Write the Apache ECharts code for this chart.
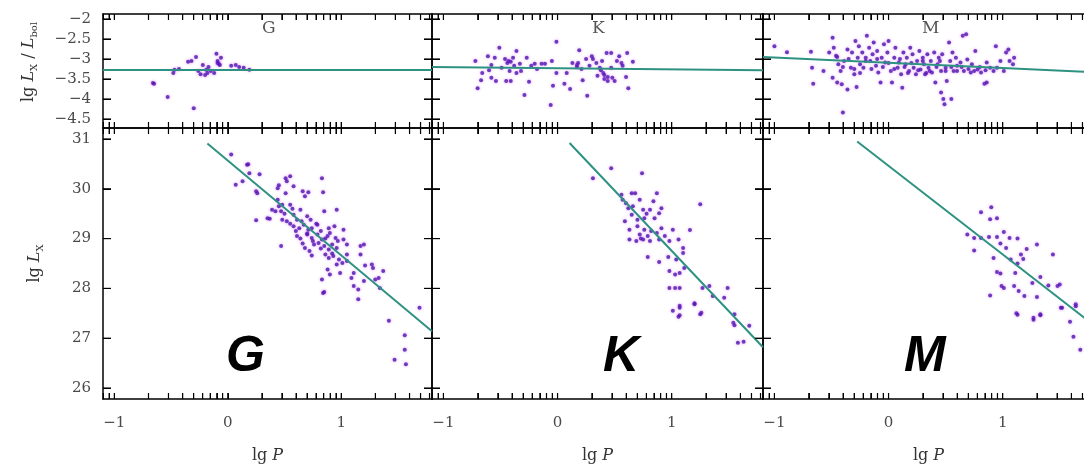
<!DOCTYPE html>
<html>
<head>
<meta charset="utf-8">
<script src="https://cdn.jsdelivr.net/npm/echarts@6/dist/echarts.min.js"></script>
<style>
html, body { margin: 0; padding: 0; background: #fff; }
#main { width: 1084px; height: 470px; }
</style>
</head>
<body>
<div id="main"></div>
<script>
// lg P, lg Lx/Lbol  (upper row)
const gTop = [[-0.66,-3.6],[-0.65,-3.62],[-0.53,-3.95],[-0.48,-3.35],[-0.47,-3.27],[-0.43,-3.25],[-0.30,-4.23],
  [-0.35,-3.07],[-0.32,-3.05],[-0.28,-2.95],[-0.26,-3.3],[-0.24,-3.38],[-0.22,-3.15],[-0.20,-3.4],[-0.18,-3.35],
  [-0.15,-3.3],[-0.12,-3.35],[-0.10,-2.87],[-0.09,-3.1],[-0.08,-3.12],[-0.06,-2.97],[-0.07,-3.15],[0.03,-3.17],
  [0.07,-3.15],[0.10,-3.2],[0.14,-3.22],[0.19,-3.27],[-0.19,-3.27],[-0.17,-3.2],[-0.09,-3.05]];

const kTop = [[-0.72,-3.05],[-0.70,-3.73],[-0.67,-3.53],[-0.66,-3.35],[-0.61,-2.93],[-0.60,-3.28],[-0.58,-3.47],
  [-0.55,-2.97],[-0.54,-3.55],[-0.51,-2.72],[-0.49,-3.22],[-0.46,-3.0],[-0.45,-3.55],[-0.44,-3.1],[-0.42,-3.3],
  [-0.41,-3.55],[-0.39,-2.97],[-0.38,-3.17],[-0.36,-2.8],[-0.36,-3.35],[-0.33,-3.12],[-0.32,-3.3],[-0.29,-3.9],
  [-0.27,-2.97],[-0.25,-3.57],[-0.23,-3.17],[-0.20,-3.12],[-0.18,-3.25],[-0.14,-3.12],[-0.11,-3.12],[-0.06,-4.15],
  [-0.05,-3.05],[-0.04,-3.67],[-0.01,-2.57],[-0.01,-3.35],[0.06,-3.62],[0.08,-3.35],[0.11,-3.75],[0.13,-3.1],
  [0.17,-3.15],[0.18,-3.1],[0.19,-2.78],[0.21,-3.25],[0.22,-3.53],[0.25,-3.0],[0.26,-3.92],[0.28,-3.17],
  [0.30,-2.93],[0.31,-3.0],[0.34,-3.1],[0.35,-3.42],[0.37,-3.22],[0.39,-3.05],[0.40,-3.35],[0.41,-3.5],
  [0.43,-2.85],[0.44,-3.55],[0.47,-2.85],[0.47,-3.22],[0.48,-3.47],[0.50,-3.55],[0.52,-3.05],[0.54,-2.93],
  [0.56,-3.1],[0.57,-3.17],[0.60,-3.45],[0.61,-2.85],[0.62,-3.73],[0.66,-3.07],[-0.43,-3.05],[-0.41,-3.07],
  [0.41,-3.4],[0.44,-3.45],[0.38,-3.28],[0.17,-3.2],[-0.58,-3.15]];

const mTop = [[-1.0,-2.68],[-0.89,-2.83],[-0.68,-2.82],[-0.67,-3.22],[-0.66,-3.62],[-0.57,-3.3],[-0.52,-2.84],
  [-0.49,-2.47],[-0.49,-3.47],[-0.48,-2.72],[-0.46,-2.92],[-0.45,-3.59],[-0.44,-3.13],[-0.42,-3.3],[-0.41,-3.63],
  [-0.40,-4.34],[-0.39,-3.05],[-0.36,-2.76],[-0.36,-3.76],[-0.33,-3.22],[-0.32,-2.84],[-0.30,-3.38],[-0.29,-2.55],
  [-0.28,-3.7],[-0.27,-2.97],[-0.26,-2.68],[-0.25,-3.13],[-0.23,-2.84],[-0.22,-3.22],[-0.20,-2.97],[-0.19,-2.42],
  [-0.17,-2.72],[-0.16,-3.05],[-0.14,-2.88],[-0.13,-2.59],[-0.11,-3.17],[-0.10,-2.8],[-0.09,-3.34],[-0.07,-3.59],
  [-0.06,-2.97],[-0.04,-2.63],[-0.03,-3.09],[-0.01,-2.84],[0.0,-2.55],[0.02,-3.3],[0.03,-3.59],[0.05,-2.97],
  [0.06,-2.72],[0.08,-3.22],[0.09,-3.09],[0.11,-3.38],[0.12,-3.72],[0.13,-2.84],[0.15,-3.13],[0.16,-2.97],
  [0.18,-3.3],[0.19,-2.72],[0.21,-2.88],[0.22,-3.22],[0.24,-3.38],[0.25,-3.05],[0.27,-2.8],[0.28,-3.26],
  [0.30,-2.97],[0.31,-3.13],[0.32,-3.38],[0.34,-2.88],[0.35,-3.22],[0.37,-3.05],[0.38,-3.34],[0.40,-2.84],
  [0.41,-3.59],[0.43,-3.13],[0.44,-2.97],[0.46,-3.3],[0.46,-3.84],[0.47,-2.88],[0.48,-4.0],[0.49,-4.13],
  [0.50,-3.22],[0.51,-3.55],[0.53,-2.59],[0.54,-3.05],[0.55,-4.0],[0.56,-2.84],[0.57,-3.3],[0.59,-2.97],
  [0.60,-3.17],[0.63,-3.09],[0.65,-2.42],[0.68,-2.38],[0.66,-3.3],[0.69,-3.01],[0.72,-3.34],[0.73,-3.13],
  [0.76,-2.8],[0.78,-3.26],[0.81,-3.34],[0.84,-3.62],[0.86,-3.59],[0.86,-3.09],[0.89,-3.22],[0.94,-2.68],
  [0.95,-3.22],[0.98,-3.05],[1.01,-3.3],[1.03,-2.84],[1.05,-2.76],[1.06,-3.05],[1.09,-3.13],[1.10,-2.97],
  [-0.35,-3.0],[-0.30,-3.25],[-0.20,-3.05],[-0.15,-3.25],[-0.10,-3.0],[-0.05,-3.2],[0.0,-3.1],[0.05,-3.25],
  [0.10,-3.0],[0.14,-3.2],[0.20,-3.1],[0.26,-3.28],[0.30,-3.05],[0.36,-3.3],[0.42,-3.2],[0.45,-3.05],
  [0.50,-3.3],[0.55,-3.2],[0.60,-3.3],[0.64,-3.2],[0.70,-3.25],[0.75,-3.3],[0.80,-3.2],[0.85,-3.28],
  [0.92,-3.3],[-0.40,-3.2],[-0.45,-2.95],[-0.25,-3.35],[0.17,-3.35],[0.33,-3.35]];

// lg P, lg Lx  (lower row)
const gBottom = [[0.03,30.69],[0.18,30.49],[0.19,30.31],[0.28,30.29],[0.07,30.08],[0.13,30.15],[0.25,29.95],
  [0.26,29.91],[0.44,30.01],[0.45,30.07],[0.51,30.21],[0.52,30.15],[0.55,30.25],[0.58,30.05],[0.51,29.91],
  [0.66,29.95],[0.68,29.85],[0.71,29.93],[0.83,30.21],[0.84,29.93],[0.44,29.78],[0.48,29.68],[0.39,29.58],
  [0.42,29.55],[0.47,29.55],[0.35,29.41],[0.37,29.40],[0.25,29.37],[0.48,29.38],[0.55,29.68],[0.58,29.48],
  [0.64,29.58],[0.52,29.35],[0.61,29.38],[0.70,29.45],[0.73,29.38],[0.85,29.55],[0.96,29.58],[0.58,29.25],
  [0.63,29.21],[0.67,29.28],[0.71,29.18],[0.74,29.21],[0.79,29.28],[0.82,29.15],[0.89,29.21],[0.94,29.25],
  [1.02,29.18],[0.61,29.05],[0.64,29.0],[0.70,29.08],[0.74,29.01],[0.79,29.08],[0.83,28.98],[0.88,29.05],
  [0.90,29.11],[0.95,29.01],[1.02,28.98],[0.47,28.85],[0.68,28.81],[0.76,28.88],[0.80,28.91],[0.85,28.85],
  [0.89,28.78],[0.92,28.88],[0.96,28.81],[1.05,28.88],[1.17,28.85],[1.20,28.88],[0.74,28.66],[0.86,28.68],
  [0.89,28.61],[0.93,28.65],[0.98,28.58],[1.05,28.68],[1.17,28.68],[0.96,28.48],[1.01,28.51],[1.05,28.55],
  [1.21,28.46],[1.27,28.48],[1.28,28.41],[1.37,28.35],[0.88,28.38],[0.90,28.28],[0.99,28.31],[1.11,28.31],
  [0.83,28.18],[1.09,28.21],[1.20,28.15],[1.30,28.18],[1.33,28.21],[1.11,28.05],[1.15,27.98],[1.34,28.01],
  [0.85,27.93],[1.15,27.78],[1.69,27.61],[1.42,27.35],[1.56,27.06],[1.56,26.77],[1.47,26.57],[1.57,26.48],
  [0.17,30.48],[0.84,27.91],[0.55,29.3],[0.60,29.15],[0.65,29.35],[0.70,29.1],[0.75,28.95],[0.78,29.3],
  [0.82,28.8],[0.86,29.0],[0.92,28.7],[0.97,28.95],[0.50,29.5],[0.45,29.65],[0.57,29.6],[0.66,28.9],[0.72,28.75]];

const kBottom = [[0.31,30.21],[0.47,30.41],[0.74,30.31],[0.56,29.88],[0.57,29.78],[0.60,29.71],[0.62,29.61],
  [0.65,29.91],[0.68,29.91],[0.72,29.78],[0.75,29.58],[0.81,29.58],[0.84,29.75],[0.87,29.91],[0.91,29.61],
  [0.89,29.51],[0.59,29.35],[0.65,29.48],[0.70,29.38],[0.76,29.41],[0.85,29.41],[1.25,29.69],[0.63,29.18],
  [0.72,29.08],[0.76,29.18],[0.79,29.05],[0.82,29.15],[0.87,29.11],[0.91,29.21],[0.94,29.05],[1.01,29.18],
  [1.16,29.17],[0.63,28.98],[0.69,28.95],[0.75,28.98],[0.81,28.95],[0.89,28.98],[0.98,28.95],[1.06,28.98],
  [1.10,28.81],[0.79,28.63],[0.89,28.53],[0.97,28.63],[1.04,28.58],[1.10,28.71],[1.11,28.41],[0.98,28.35],
  [1.03,28.28],[1.07,28.31],[0.98,28.01],[1.03,28.01],[1.07,28.01],[1.27,28.01],[1.33,28.05],[1.49,28.01],
  [1.36,27.85],[1.46,27.81],[1.07,27.65],[1.20,27.70],[1.01,27.55],[1.07,27.46],[1.26,27.51],[1.55,27.48],
  [1.54,27.31],[1.68,27.25],[1.07,27.61],[1.06,27.43],[1.20,27.68],[1.25,27.48],[1.55,27.26],[1.58,26.91],
  [1.63,26.93],[0.70,29.25],[0.78,29.5],[0.66,29.65],[0.73,29.0]];

const mBottom = [[0.90,29.63],[0.81,29.53],[0.89,29.39],[0.95,29.41],[1.01,29.13],[0.69,29.08],[0.75,29.01],
  [0.81,29.01],[0.88,29.03],[0.95,29.03],[1.06,29.01],[1.13,29.0],[0.75,28.76],[0.98,28.90],[1.03,28.81],
  [1.21,28.79],[1.30,28.88],[0.92,28.61],[1.07,28.58],[1.16,28.68],[1.18,28.59],[1.13,28.50],[1.44,28.68],
  [0.95,28.33],[0.98,28.30],[1.11,28.31],[1.26,28.11],[1.33,28.23],[0.99,28.05],[1.10,28.05],[1.01,28.01],
  [1.14,27.95],[1.40,28.06],[1.48,28.05],[1.50,28.08],[0.89,27.86],[1.19,27.85],[1.30,27.83],[1.64,27.68],
  [1.51,27.61],[1.12,27.50],[1.33,27.48],[1.27,27.41],[1.13,27.47],[1.27,27.37],[1.33,27.46],[1.52,27.61],
  [1.64,27.64],[1.59,27.33],[1.62,27.03],[1.68,26.77]];

// fitted relations
const gTopFit = [[-1.1,-3.27],[1.8,-3.27]];
const kTopFit = [[-1.1,-3.2],[1.8,-3.28]];
const mTopFit = [[-1.1,-2.95],[1.8,-3.33]];
const gBottomFit = [[-0.18,30.91],[1.8,27.14]];
const kBottomFit = [[0.105,30.92],[1.8,26.82]];
const mBottomFit = [[-0.275,30.95],[1.8,27.26]];

const classes = ['G', 'K', 'M'];
const xLabels = [-1, 0, 1];
const topYLabels = [-4.5, -4, -3.5, -3, -2.5, -2];
const bottomYLabels = [26, 27, 28, 29, 30, 31];

// log-style minor ticks on the lg P axis
const xTicks = [];
for (let d = -2; d <= 1; d++) {
  for (let k = 1; k <= 9; k++) {
    const v = d + Math.log10(k);
    if (v >= -1.1 && v <= 1.8) xTicks.push(Math.round(v * 10000) / 10000);
  }
}

const points = [[gTop, kTop, mTop], [gBottom, kBottom, mBottom]];
const fits = [[gTopFit, kTopFit, mTopFit], [gBottomFit, kBottomFit, mBottomFit]];

const xMin = -1.1, xMax = 1.8;
const colLeft = [103, 432, 763];
const colWidth = [329, 331, 331];
const rows = [
  { top: 14, height: 114, min: -4.725, max: -1.875, labels: topYLabels,
    name: '{a|lg }{i|L}{s|X}{a| / }{i|L}{s|bol}', nameGap: 64, namePad: [0, 0, 0, 18] },
  { top: 128, height: 271, min: 25.78, max: 31.22, labels: bottomYLabels,
    name: '{a|lg }{i|L}{s|X}', nameGap: 58, namePad: 0 }
];

const serif = 'DejaVu Serif';
const fmt = v => (v < 0 ? '\u2212' : '') + Math.abs(v);
const nameRich = {
  a: { fontFamily: serif, fontSize: 16, color: '#333', lineHeight: 20 },
  i: { fontFamily: serif, fontSize: 16, fontStyle: 'italic', color: '#333', lineHeight: 20 },
  s: { fontFamily: serif, fontSize: 10, color: '#333', lineHeight: 6, verticalAlign: 'bottom' }
};

// tick anchors on the four frame sides: [value x, value y, pixel dx, pixel dy] (inward direction)
function frameTicks(row) {
  const t = [];
  xTicks.forEach(v => { t.push([v, row.min, 0, -6]); t.push([v, row.max, 0, 6]); });
  row.labels.forEach(v => { t.push([xMin, v, 8, 0]); t.push([xMax, v, -8, 0]); });
  return t;
}

const renderTick = (params, api) => {
  const p = api.coord([api.value(0), api.value(1)]);
  return {
    type: 'line',
    shape: { x1: p[0], y1: p[1], x2: p[0] + api.value(2), y2: p[1] + api.value(3) },
    style: { stroke: '#000', lineWidth: 1.2 }
  };
};

let grids = [], xAxes = [], yAxes = [], series = [];
rows.forEach((row, r) => {
  classes.forEach((name, c) => {
    const gi = r * 3 + c;
    grids.push({ left: colLeft[c], top: row.top, width: colWidth[c], height: row.height,
      containLabel: false, outerBoundsMode: 'none' });
    ['bottom', 'top'].forEach(pos => {
      const named = r === 1 && pos === 'bottom';
      xAxes.push({
        gridIndex: gi, type: 'value', position: pos, min: xMin, max: xMax,
        name: named ? '{a|lg }{i|P}' : '', nameLocation: 'middle', nameGap: 47,
        nameTextStyle: { rich: nameRich },
        axisLine: { onZero: false, lineStyle: { color: '#000', width: 1.5 } },
        axisTick: { show: true, inside: true, length: 6, customValues: xTicks },
        axisLabel: { show: named, customValues: xLabels, formatter: fmt, margin: 17,
          fontFamily: serif, fontSize: 15, color: '#4a4a4a' },
        splitLine: { show: false }
      });
    });
    ['left', 'right'].forEach(pos => {
      const named = c === 0 && pos === 'left';
      yAxes.push({
        gridIndex: gi, type: 'value', position: pos, min: row.min, max: row.max,
        name: named ? row.name : '', nameLocation: 'middle', nameGap: row.nameGap,
        nameTextStyle: { rich: nameRich, padding: row.namePad },
        axisLine: { show: true, onZero: false, lineStyle: { color: '#000', width: 1.5 } },
        axisTick: { show: true, inside: true, length: 8, customValues: row.labels },
        axisLabel: { show: named, customValues: row.labels, formatter: fmt, margin: 12,
          fontFamily: serif, fontSize: 15, color: '#4a4a4a' },
        splitLine: { show: false }
      });
    });
    const fit = fits[r][c];
    series.push({
      type: 'scatter', xAxisIndex: gi * 2, yAxisIndex: gi * 2, data: points[r][c],
      symbolSize: 4, itemStyle: { color: '#4e17ad', shadowBlur: 3, shadowColor: 'rgba(190,40,255,0.6)' },
      silent: true,
      markLine: {
        silent: true, animation: false, symbol: ['none', 'none'], label: { show: false },
        lineStyle: { color: '#2e9282', width: 2, type: 'solid' },
        emphasis: { disabled: true },
        data: [[{ coord: fit[0] }, { coord: fit[1] }]]
      }
    });
    series.push({
      type: 'custom', xAxisIndex: gi * 2, yAxisIndex: gi * 2, data: frameTicks(row),
      dimensions: ['x', 'y', 'dx', 'dy'], encode: { x: 0, y: 1 },
      renderItem: renderTick, silent: true, clip: false, z: 10
    });
  });
});

// panel labels: small serif letters on top row, big bold italic letters in bottom row
const titles = [];
const smallLeft = [262, 592, 922];
const bigLeft = [226, 603, 904];
classes.forEach((name, c) => {
  titles.push({ text: name, left: smallLeft[c], top: 20, padding: 0,
    textStyle: { fontFamily: serif, fontSize: 17, fontWeight: 'normal', color: '#555' } });
  titles.push({ text: name, left: bigLeft[c], top: 332, padding: 0,
    textStyle: { fontFamily: 'Liberation Sans', fontSize: 50, fontStyle: 'italic', fontWeight: 'bold', color: '#000' } });
});

const option = {
  animation: false,
  title: titles,
  grid: grids,
  xAxis: xAxes,
  yAxis: yAxes,
  series: series
};

const myChart = echarts.init(document.getElementById('main'));
myChart.setOption(option);
</script>
</body>
</html>
